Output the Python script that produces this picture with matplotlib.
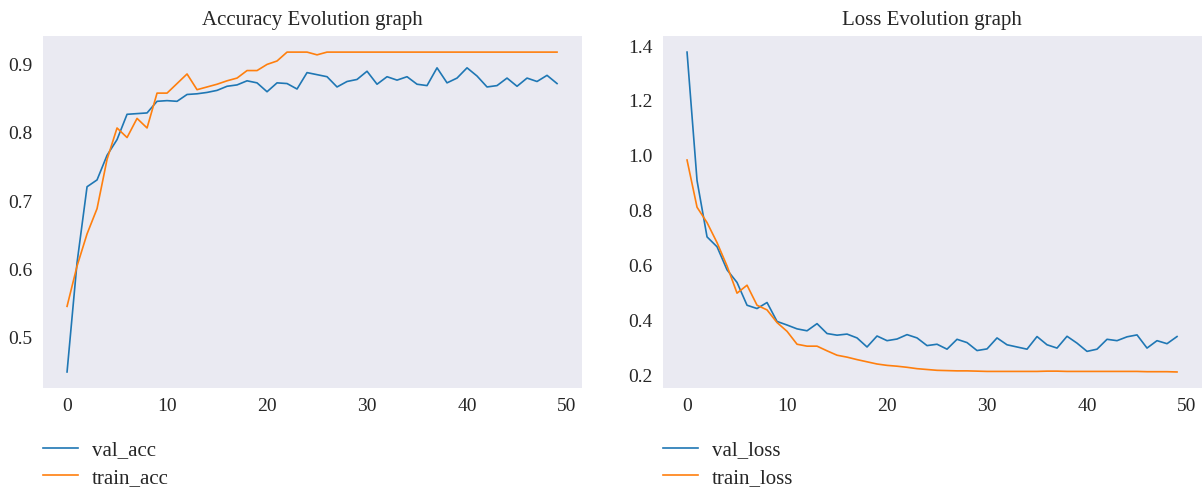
import matplotlib
matplotlib.use("Agg")
import matplotlib.pyplot as plt

epochs = list(range(50))

val_acc = [0.450, 0.610, 0.721, 0.731, 0.767, 0.790, 0.827, 0.828, 0.829, 0.846,
           0.847, 0.846, 0.856, 0.857, 0.859, 0.862, 0.868, 0.870, 0.876, 0.873,
           0.860, 0.873, 0.872, 0.864, 0.888, 0.885, 0.882, 0.867, 0.875, 0.878,
           0.890, 0.871, 0.882, 0.877, 0.882, 0.871, 0.869, 0.895, 0.873, 0.880,
           0.895, 0.883, 0.867, 0.869, 0.880, 0.868, 0.880, 0.875, 0.884, 0.872]

train_acc = [0.546, 0.605, 0.652, 0.689, 0.761, 0.807, 0.793, 0.821, 0.807, 0.858,
             0.858, 0.872, 0.886, 0.863, 0.867, 0.871, 0.876, 0.880, 0.891, 0.891,
             0.900, 0.905, 0.918, 0.918, 0.918, 0.914, 0.918, 0.918, 0.918, 0.918,
             0.918, 0.918, 0.918, 0.918, 0.918, 0.918, 0.918, 0.918, 0.918, 0.918,
             0.918, 0.918, 0.918, 0.918, 0.918, 0.918, 0.918, 0.918, 0.918, 0.918]

val_loss = [1.378, 0.910, 0.705, 0.669, 0.585, 0.539, 0.456, 0.444, 0.466, 0.397,
            0.384, 0.370, 0.363, 0.389, 0.353, 0.347, 0.351, 0.337, 0.304, 0.344,
            0.327, 0.333, 0.349, 0.337, 0.309, 0.314, 0.296, 0.332, 0.320, 0.291,
            0.297, 0.337, 0.312, 0.304, 0.296, 0.342, 0.312, 0.300, 0.343, 0.318,
            0.288, 0.296, 0.332, 0.327, 0.341, 0.348, 0.300, 0.327, 0.316, 0.342]

train_loss = [0.985, 0.813, 0.757, 0.684, 0.599, 0.500, 0.529, 0.456, 0.439, 0.393,
              0.361, 0.314, 0.307, 0.307, 0.290, 0.274, 0.267, 0.258, 0.250, 0.242,
              0.237, 0.234, 0.230, 0.225, 0.222, 0.219, 0.218, 0.217, 0.217, 0.216,
              0.215, 0.215, 0.215, 0.215, 0.215, 0.215, 0.216, 0.216, 0.215, 0.215,
              0.215, 0.215, 0.215, 0.215, 0.215, 0.215, 0.214, 0.214, 0.214, 0.213]

plt.rcParams['font.family'] = ['Liberation Serif', 'DejaVu Serif']

fig = plt.figure(figsize=(12.02, 4.88), dpi=100)
ax1 = fig.add_axes([0.0354, 0.205, 0.4484, 0.721])
ax2 = fig.add_axes([0.5512, 0.205, 0.4484, 0.721])

panels = [
    (ax1, val_acc, train_acc, "val_acc", "train_acc", "Accuracy Evolution graph"),
    (ax2, val_loss, train_loss, "val_loss", "train_loss", "Loss Evolution graph"),
]

for ax, val, train, vlab, tlab, title in panels:
    ax.set_facecolor("#eaeaf2")
    for s in ax.spines.values():
        s.set_visible(False)
    ax.plot(epochs, val, color="#1f77b4", lw=1.2, label=vlab)
    ax.plot(epochs, train, color="#ff7f0e", lw=1.2, label=tlab)
    ax.set_xticks([0, 10, 20, 30, 40, 50])
    ax.tick_params(length=0, pad=7, labelsize=14, colors="#262626")
    ax.set_title(title, fontsize=15, color="#262626", pad=8)
    ax.legend(loc="upper left", bbox_to_anchor=(0, -0.15), frameon=False,
              fontsize=15, borderpad=0, borderaxespad=0, labelspacing=0.37,
              handlelength=1.7, handletextpad=0.65, labelcolor="#262626")

fig.savefig("out.png", dpi=100)
